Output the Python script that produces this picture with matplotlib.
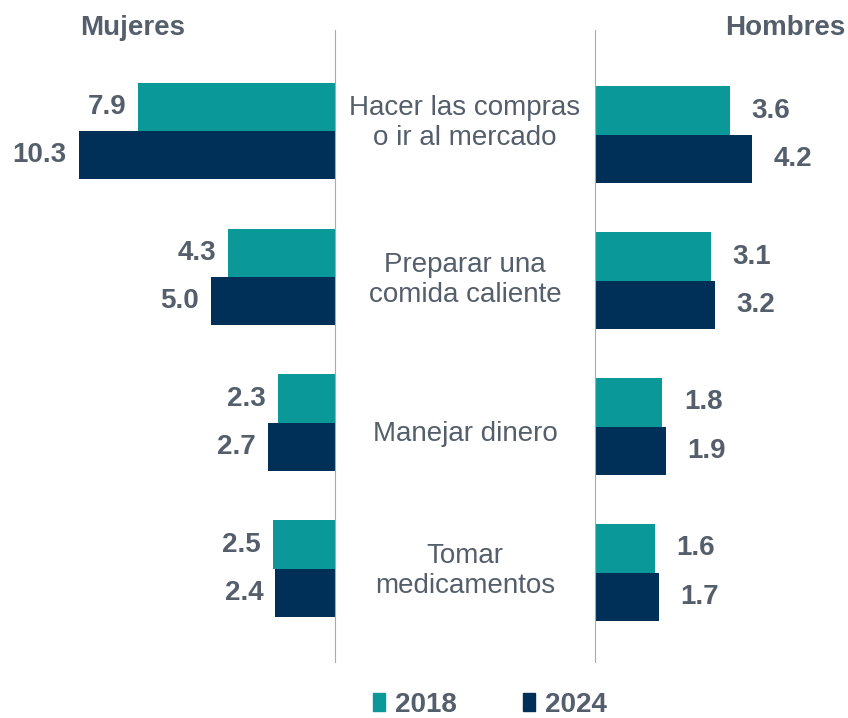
import matplotlib.pyplot as plt
import numpy as np
from matplotlib.patches import Patch

plt.rcParams['font.family'] = ['Liberation Sans', 'DejaVu Sans']

categorias = ["Hacer las compras\no ir al mercado", "Preparar una\ncomida caliente",
              "Manejar dinero", "Tomar\nmedicamentos"]
mujeres_2018 = [7.9, 4.3, 2.3, 2.5]
mujeres_2024 = [10.3, 5.0, 2.7, 2.4]
hombres_2018 = [3.6, 3.1, 1.8, 1.6]
hombres_2024 = [4.2, 3.2, 1.9, 1.7]
anios = ["2018", "2024"]

c18 = "#0a9899"
c24 = "#003057"
gris = "#545f6b"
linea = "#a3acb5"
fs = 20

W, H = 848, 718
fig = plt.figure(figsize=(W / 100, H / 100), dpi=100)

y = np.arange(len(categorias))
h = 0.33

# panel izquierdo (mujeres), barras hacia la izquierda
axl = fig.add_axes([0, 1 - 662 / H, 335 / W, 632 / H])
axl.barh(y - h / 2, mujeres_2018, height=h, color=c18)
axl.barh(y + h / 2, mujeres_2024, height=h, color=c24)
axl.set_xlim(335 / 24.9, 0)
axl.set_ylim(3.64, -0.69)
for i in y:
    axl.annotate(f"{mujeres_2018[i]:.1f}", (mujeres_2018[i], i - h / 2), xytext=(-8.5, 0),
                 textcoords="offset points", ha="right", va="center",
                 fontsize=fs, fontweight="bold", color=gris)
    axl.annotate(f"{mujeres_2024[i]:.1f}", (mujeres_2024[i], i + h / 2), xytext=(-8.5, 0),
                 textcoords="offset points", ha="right", va="center",
                 fontsize=fs, fontweight="bold", color=gris)

# panel derecho (hombres)
axr = fig.add_axes([595 / W, 1 - 662 / H, 253 / W, 632 / H])
axr.barh(y - h / 2, hombres_2018, height=h, color=c18)
axr.barh(y + h / 2, hombres_2024, height=h, color=c24)
axr.set_xlim(0, 253 / 37.4)
axr.set_ylim(3.64 - 0.027, -0.69 - 0.027)
for i in y:
    axr.annotate(f"{hombres_2018[i]:.1f}", (hombres_2018[i], i - h / 2), xytext=(15.5, 0),
                 textcoords="offset points", ha="left", va="center",
                 fontsize=fs, fontweight="bold", color=gris)
    axr.annotate(f"{hombres_2024[i]:.1f}", (hombres_2024[i], i + h / 2), xytext=(15.5, 0),
                 textcoords="offset points", ha="left", va="center",
                 fontsize=fs, fontweight="bold", color=gris)

for ax in (axl, axr):
    ax.set_xticks([])
    ax.set_yticks([])
    for s in ax.spines.values():
        s.set_visible(False)
    ax.patch.set_visible(False)
axl.spines["right"].set_visible(True)
axl.spines["right"].set_color(linea)
axr.spines["left"].set_visible(True)
axr.spines["left"].set_color(linea)

# etiquetas de categoria en el centro (ajuste vertical en px)
ajuste = [11, 0, -8, 0]
for i, cat in enumerate(categorias):
    yy = axl.transData.transform((0, i))[1]
    fig.text(465 / W, (yy + ajuste[i]) / H - 0.004, cat, ha="center", va="center",
             fontsize=fs, color=gris, linespacing=1.2)

fig.text(80 / W, 1 - 28 / H, "Mujeres", ha="left", va="center", fontsize=fs,
         fontweight="bold", color=gris)
fig.text(845 / W, 1 - 28 / H, "Hombres", ha="right", va="center", fontsize=fs,
         fontweight="bold", color=gris)

handles = [Patch(color=c18), Patch(color=c24)]
fig.legend(handles, anios, loc="center", bbox_to_anchor=(490 / W, 1 - 705 / H), ncol=2,
           frameon=False, handlelength=0.42, handleheight=0.6, handletextpad=0.35,
           columnspacing=2.4, prop={"size": fs, "weight": "bold"}, labelcolor=gris)

fig.savefig("out.png", dpi=100)
